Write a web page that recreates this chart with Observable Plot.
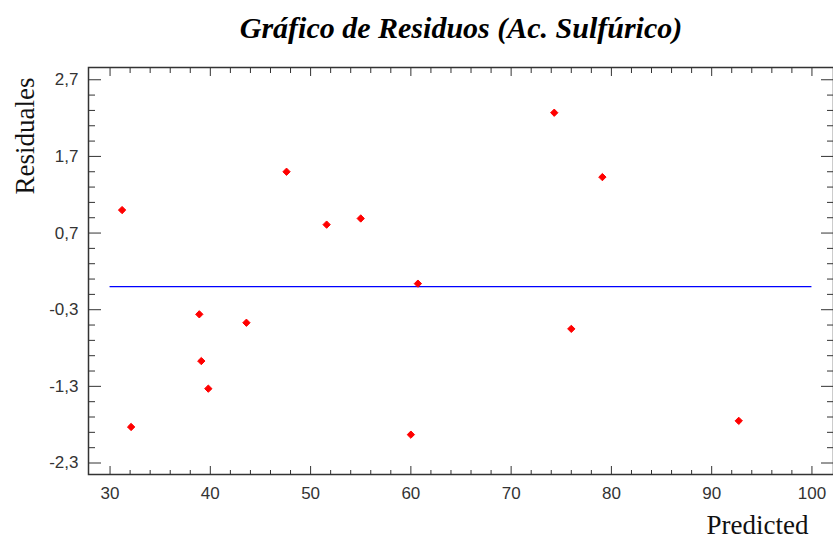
<!DOCTYPE html>
<html>
<head>
<meta charset="utf-8">
<script src="https://cdn.jsdelivr.net/npm/d3@7"></script>
<script src="https://cdn.jsdelivr.net/npm/@observablehq/plot@0.6"></script>
<style>
  html, body { margin: 0; padding: 0; background: #fff; }
  #chart svg { display: block; }
</style>
</head>
<body>
<div id="chart"></div>
<script>
// Residuals of the sulfuric-acid model against its predicted values
const predicted = [31.2, 32.1, 38.9, 39.1, 39.8, 43.6, 47.6, 51.6, 55.0, 60.7, 60.0, 74.3, 76.0, 79.1, 92.7];
const residuals = [1.00, -1.83, -0.36, -0.97, -1.33, -0.47, 1.50, 0.81, 0.89, 0.04, -1.93, 2.27, -0.55, 1.43, -1.75];

// Reference line at zero residual
const zeroLine = [{x1: 30, x2: 100, y: 0}];

// Axis ticks
const xMajor = [30, 40, 50, 60, 70, 80, 90, 100];
const xMinor = d3.range(32, 100, 2).filter(v => v % 10 !== 0);
const yMajor = [-2.3, -1.3, -0.3, 0.7, 1.7, 2.7];
const yMinor = d3.range(0, 26).map(i => +(-2.3 + i * 0.2).toFixed(1)).filter(v => !yMajor.includes(v));

const titleText = "Gráfico de Residuos (Ac. Sulfúrico)";
const xLabel = "Predicted";
const yLabel = "Residuales";

const points = predicted.map((p, i) => ({p, r: residuals[i]}));
const fmt = d => d.toFixed(1).replace(".", ",");

const serif = "Liberation Serif, 'Times New Roman', serif";
const tickFamily = "'Liberation Sans Narrow', 'Arial Narrow', sans-serif";
const axisStroke = "#333";

const chart = Plot.plot({
  width: 833,
  height: 540,
  marginLeft: 88,
  marginRight: 0,
  marginTop: 67,
  marginBottom: 66,
  style: {background: "#fff", fontFamily: "Liberation Sans, Arial, sans-serif", overflow: "visible"},
  x: {domain: [27.85, 102.15], axis: null},
  y: {domain: [-2.45, 2.86], axis: null},
  marks: [
    // inward tick marks on all four sides
    Plot.axisX(xMajor, {anchor: "bottom", text: null, tickSize: -8, stroke: axisStroke}),
    Plot.axisX(xMinor, {anchor: "bottom", text: null, tickSize: -4, stroke: axisStroke}),
    Plot.axisX(xMajor, {anchor: "top", text: null, tickSize: -8, stroke: axisStroke}),
    Plot.axisX(xMinor, {anchor: "top", text: null, tickSize: -5, stroke: axisStroke}),
    Plot.axisY(yMajor, {anchor: "left", text: null, tickSize: -13, stroke: axisStroke}),
    Plot.axisY(yMinor, {anchor: "left", text: null, tickSize: -7, stroke: axisStroke}),
    Plot.axisY(yMajor, {anchor: "right", text: null, tickSize: -13, stroke: axisStroke}),
    Plot.axisY(yMinor, {anchor: "right", text: null, tickSize: -7, stroke: axisStroke}),
    // tick labels
    Plot.text(xMajor, {x: d => d, frameAnchor: "bottom", lineAnchor: "middle", dy: 19, text: d => String(d), fontSize: 17, fontFamily: tickFamily, fill: "#333"}),
    Plot.text(yMajor, {y: d => d, frameAnchor: "left", textAnchor: "end", lineAnchor: "middle", dx: -10, text: fmt, fontSize: 17, fontFamily: tickFamily, fill: "#333"}),
    Plot.frame({stroke: axisStroke, strokeWidth: 1.5}),
    Plot.ruleY(zeroLine, {x1: "x1", x2: "x2", y: "y", stroke: "#0000ff", strokeWidth: 1.3}),
    Plot.dot(points, {x: "p", y: "r", symbol: "diamond2", r: 3.3, fill: "#ff0000", stroke: "#ff0000", strokeWidth: 1, strokeLinejoin: "round"}),
    // titles
    Plot.text([titleText], {frameAnchor: "top", lineAnchor: "middle", dy: -39, fontSize: 30, fontWeight: "bold", fontStyle: "italic", fontFamily: serif, fill: "#000"}),
    Plot.text([yLabel], {frameAnchor: "left", textAnchor: "middle", lineAnchor: "middle", rotate: -90, dx: -63, dy: -135, fontSize: 27, fontFamily: serif, fill: "#111"}),
    Plot.text([xLabel], {frameAnchor: "bottom-right", textAnchor: "end", lineAnchor: "middle", dx: -25, dy: 51, fontSize: 27, fontFamily: serif, fill: "#111"})
  ]
});

document.getElementById("chart").appendChild(chart);
</script>
</body>
</html>
